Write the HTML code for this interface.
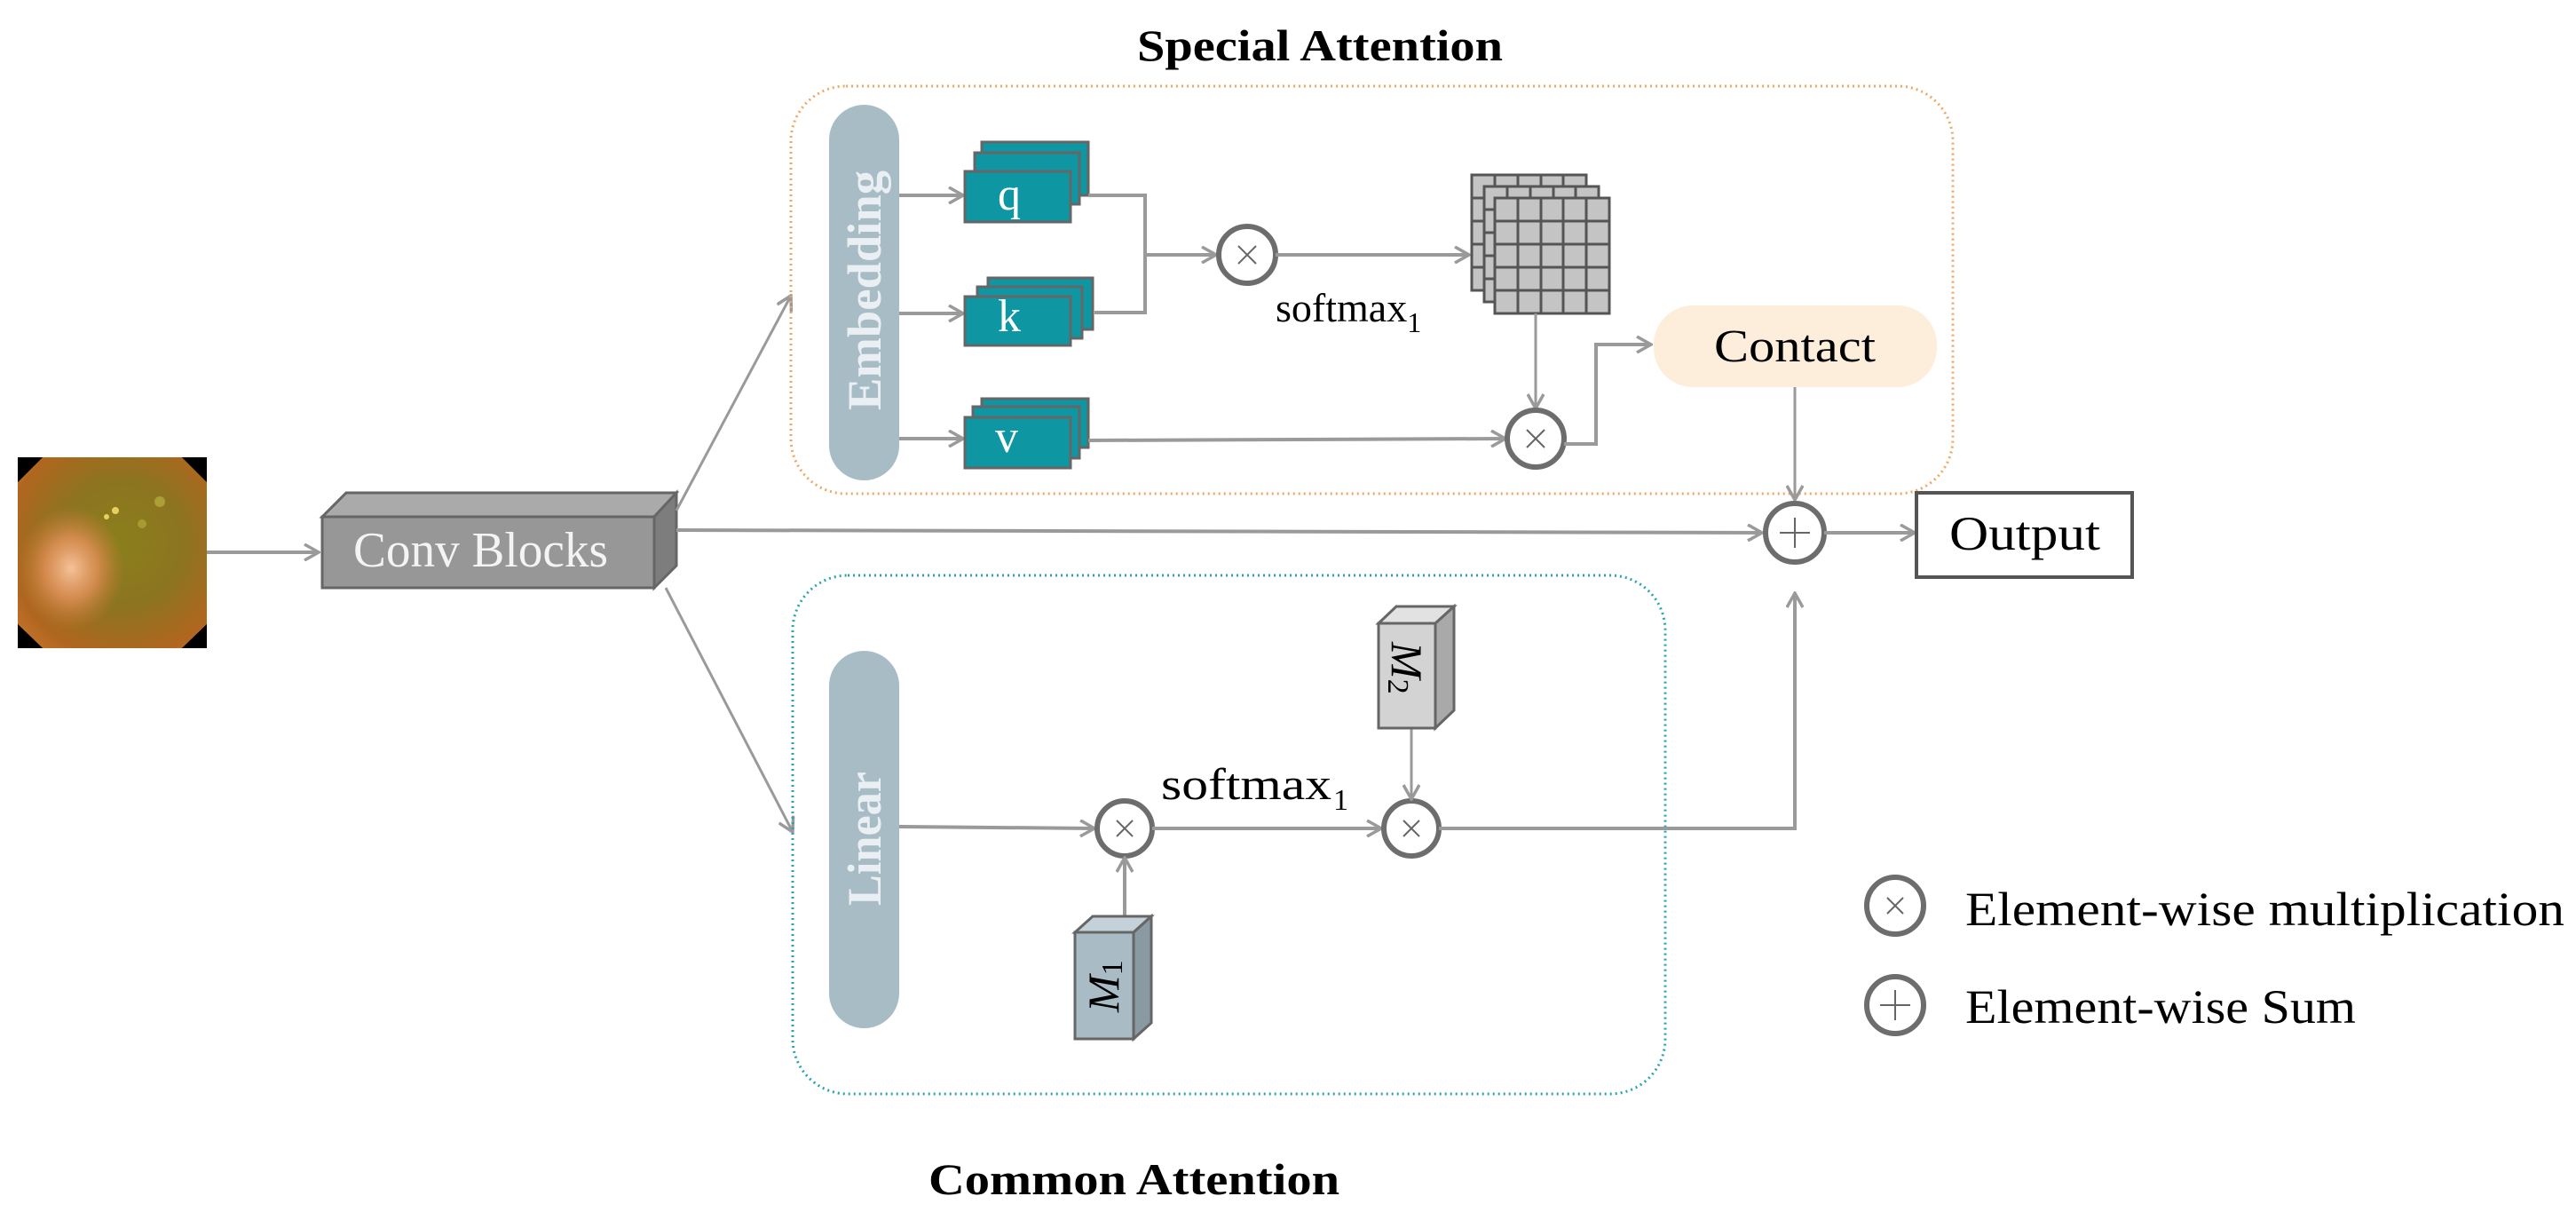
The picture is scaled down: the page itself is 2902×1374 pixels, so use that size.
<!DOCTYPE html>
<html><head><meta charset="utf-8"><style>html,body{margin:0;padding:0;background:#fff}svg{display:block}</style></head><body>
<svg width="2902" height="1374" viewBox="0 0 2902 1374" xmlns="http://www.w3.org/2000/svg">
<defs>
<marker id="ar" viewBox="0 0 20 20" refX="18" refY="10" markerWidth="20" markerHeight="20" markerUnits="userSpaceOnUse" orient="auto"><path d="M2 1 L18 10 L2 19" fill="none" stroke="#9a9a9a" stroke-width="3.5"/></marker>
<radialGradient id="img" cx="0.55" cy="0.45" r="0.75"><stop offset="0" stop-color="#8a7f1c"/><stop offset="0.45" stop-color="#8d7420"/><stop offset="0.8" stop-color="#b0661e"/><stop offset="1" stop-color="#c87530"/></radialGradient>
<radialGradient id="spot" cx="0.5" cy="0.5" r="0.5"><stop offset="0" stop-color="#f6c29a"/><stop offset="0.5" stop-color="#e39058" stop-opacity="0.8"/><stop offset="1" stop-color="#d07a3a" stop-opacity="0"/></radialGradient>
<clipPath id="oct"><polygon points="48,515 205,515 233,543 233,703 205,730 48,730 20,703 20,543"/></clipPath>
</defs>
<g font-family="Liberation Serif, serif">
<!-- image -->
<rect x="20" y="515" width="213" height="215" fill="#000"/>
<g clip-path="url(#oct)">
<polygon points="48,515 205,515 233,543 233,703 205,730 48,730 20,703 20,543" fill="url(#img)"/>
<ellipse cx="80" cy="640" rx="60" ry="70" fill="url(#spot)"/>
</g>
<circle cx="130" cy="575" r="4" fill="#e8d060"/><circle cx="120" cy="582" r="3" fill="#e8d060"/><circle cx="180" cy="565" r="6" fill="#b8b040" opacity="0.7"/><circle cx="160" cy="590" r="5" fill="#b8b040" opacity="0.6"/>

<!-- image -> conv -->
<line x1="233" y1="622" x2="359" y2="622" stroke="#9a9a9a" stroke-width="4" marker-end="url(#ar)"/>

<!-- Conv blocks -->
<polygon points="363,582 390,555 762,555 737,582" fill="#aaa" stroke="#666" stroke-width="3"/>
<polygon points="737,582 762,555 762,637 737,662" fill="#7d7d7d" stroke="#666" stroke-width="3"/>
<rect x="363" y="582" width="374" height="80" fill="#979797" stroke="#666" stroke-width="3"/>
<text x="398" y="638" font-size="56" fill="#f4f4f4" textLength="287" lengthAdjust="spacingAndGlyphs">Conv Blocks</text>

<!-- branches -->
<line x1="762" y1="575" x2="891" y2="333" stroke="#9a9a9a" stroke-width="3" marker-end="url(#ar)"/>
<line x1="750" y1="662" x2="893" y2="937" stroke="#9a9a9a" stroke-width="3" marker-end="url(#ar)"/>
<line x1="762" y1="597" x2="1985" y2="600" stroke="#9a9a9a" stroke-width="4" marker-end="url(#ar)"/>

<!-- title -->
<text x="1281" y="68" font-size="50" font-weight="bold" textLength="412" lengthAdjust="spacingAndGlyphs">Special Attention</text>
<text x="1046" y="1345" font-size="50" font-weight="bold" textLength="463" lengthAdjust="spacingAndGlyphs">Common Attention</text>

<!-- orange dotted box -->
<rect x="891" y="97" width="1309" height="459" rx="62" fill="none" stroke="#f0a860" stroke-width="3" stroke-dasharray="2 4"/>
<!-- cyan dotted box -->
<rect x="893" y="648" width="983" height="584" rx="62" fill="none" stroke="#2aa3b3" stroke-width="3" stroke-dasharray="2 4"/>

<!-- Embedding pill -->
<rect x="934" y="118" width="79" height="423" rx="39.5" fill="#a8bcc6"/>
<text transform="translate(992,462) rotate(-90)" font-size="54" font-weight="bold" fill="#e9eff2" textLength="270" lengthAdjust="spacingAndGlyphs">Embedding</text>
<!-- Linear pill -->
<rect x="934" y="733" width="79" height="425" rx="39.5" fill="#a8bcc6"/>
<text transform="translate(992,1020) rotate(-90)" font-size="54" font-weight="bold" fill="#e9eff2" textLength="151" lengthAdjust="spacingAndGlyphs">Linear</text>

<!-- arrows to qkv -->
<line x1="1013" y1="220" x2="1085" y2="220" stroke="#9a9a9a" stroke-width="4" marker-end="url(#ar)"/>
<line x1="1013" y1="353" x2="1085" y2="353" stroke="#9a9a9a" stroke-width="4" marker-end="url(#ar)"/>
<line x1="1013" y1="494" x2="1085" y2="494" stroke="#9a9a9a" stroke-width="4" marker-end="url(#ar)"/>

<!-- q stack -->
<g fill="#0e97a3" stroke="#666" stroke-width="3">
<rect x="1106" y="160" width="120" height="60"/><rect x="1098" y="172" width="118" height="58"/><rect x="1087" y="193" width="119" height="57"/>
<rect x="1113" y="313" width="118" height="58"/><rect x="1101" y="323" width="118" height="58"/><rect x="1087" y="334" width="119" height="55"/>
<rect x="1106" y="449" width="120" height="55"/><rect x="1096" y="458" width="120" height="58"/><rect x="1087" y="470" width="119" height="57"/>
</g>
<g font-size="52" fill="#fff" text-anchor="middle">
<text x="1137" y="236">q</text><text x="1137" y="373">k</text><text x="1134" y="509">v</text>
</g>

<!-- q/k join -->
<polyline points="1226,220 1290,220 1290,352 1233,352" fill="none" stroke="#9a9a9a" stroke-width="4"/>
<line x1="1290" y1="287" x2="1370" y2="287" stroke="#9a9a9a" stroke-width="4" marker-end="url(#ar)"/>
<circle cx="1405" cy="287" r="32" fill="#fff" stroke="#6d6d6d" stroke-width="6"/>
<path d="M1395 277 L1415 297 M1415 277 L1395 297" stroke="#666" stroke-width="2"/>
<line x1="1437" y1="287" x2="1655" y2="287" stroke="#9a9a9a" stroke-width="4" marker-end="url(#ar)"/>
<text x="1437" y="362" font-size="46">softmax<tspan font-size="32" dy="12">1</tspan></text>

<!-- grid stack -->
<g stroke="#555" stroke-width="3" fill="#c4c4c4">
<rect x="1658" y="197" width="129" height="130"/>
<rect x="1672" y="210" width="129" height="130"/>
<rect x="1684" y="223" width="129" height="130"/>
</g>
<g stroke="#555" stroke-width="3">
<path d="M1710 223 V353 M1736 223 V353 M1761 223 V353 M1787 223 V353 M1684 249 H1813 M1684 275 H1813 M1684 301 H1813 M1684 327 H1813"/>
<path d="M1684 223 H1801 M1672 236 H1684 M1672 262 H1684 M1672 288 H1684 M1672 314 H1684 M1698 210 V223 M1724 210 V223 M1750 210 V223 M1775 210 V223"/>
<path d="M1658 223 H1672 M1658 249 H1672 M1658 275 H1672 M1658 301 H1672 M1684 197 V210 M1710 197 V210 M1736 197 V210 M1761 197 V210"/>
</g>

<!-- grid -> mult2 -->
<line x1="1730" y1="353" x2="1730" y2="460" stroke="#9a9a9a" stroke-width="3" marker-end="url(#ar)"/>
<line x1="1226" y1="496" x2="1696" y2="494" stroke="#9a9a9a" stroke-width="4" marker-end="url(#ar)"/>
<circle cx="1730" cy="494" r="32" fill="#fff" stroke="#6d6d6d" stroke-width="6"/>
<path d="M1720 484 L1740 504 M1740 484 L1720 504" stroke="#666" stroke-width="2"/>
<polyline points="1762,500 1798,500 1798,388 1860,388" fill="none" stroke="#9a9a9a" stroke-width="4" marker-end="url(#ar)"/>

<!-- Contact -->
<rect x="1863" y="344" width="319" height="92" rx="44" fill="#fdeedb"/>
<text x="2022" y="407" font-size="52" text-anchor="middle" textLength="182" lengthAdjust="spacingAndGlyphs">Contact</text>
<line x1="2022" y1="436" x2="2022" y2="563" stroke="#9a9a9a" stroke-width="3" marker-end="url(#ar)"/>

<!-- plus -->
<circle cx="2022" cy="600" r="33" fill="#fff" stroke="#6d6d6d" stroke-width="6"/>
<path d="M2022 583 V617 M2005 600 H2039" stroke="#666" stroke-width="2"/>
<line x1="2055" y1="600" x2="2157" y2="600" stroke="#9a9a9a" stroke-width="4" marker-end="url(#ar)"/>
<rect x="2159" y="555" width="243" height="95" fill="#fff" stroke="#555" stroke-width="4"/>
<text x="2281" y="619" font-size="54" text-anchor="middle" textLength="170" lengthAdjust="spacingAndGlyphs">Output</text>

<!-- common path -->
<line x1="1013" y1="931" x2="1233" y2="933" stroke="#9a9a9a" stroke-width="4" marker-end="url(#ar)"/>
<circle cx="1267" cy="933" r="31" fill="#fff" stroke="#6d6d6d" stroke-width="6"/>
<path d="M1258 924 L1276 942 M1276 924 L1258 942" stroke="#666" stroke-width="2"/>
<line x1="1298" y1="933" x2="1556" y2="933" stroke="#9a9a9a" stroke-width="4" marker-end="url(#ar)"/>
<text x="1308" y="900" font-size="50" textLength="192" lengthAdjust="spacingAndGlyphs">softmax</text><text x="1502" y="912" font-size="34">1</text>
<circle cx="1590" cy="933" r="31" fill="#fff" stroke="#6d6d6d" stroke-width="6"/>
<path d="M1581 924 L1599 942 M1599 924 L1581 942" stroke="#666" stroke-width="2"/>
<line x1="1267" y1="1032" x2="1267" y2="966" stroke="#9a9a9a" stroke-width="4" marker-end="url(#ar)"/>
<line x1="1590" y1="820" x2="1590" y2="900" stroke="#9a9a9a" stroke-width="3" marker-end="url(#ar)"/>
<polyline points="1621,933 2022,933 2022,668" fill="none" stroke="#9a9a9a" stroke-width="4" marker-end="url(#ar)"/>

<!-- M1 -->
<polygon points="1211,1050 1231,1032 1297,1032 1277,1050" fill="#c4d1d8" stroke="#666" stroke-width="3"/>
<polygon points="1277,1050 1297,1032 1297,1152 1277,1170" fill="#8a9aa2" stroke="#666" stroke-width="3"/>
<rect x="1211" y="1050" width="66" height="120" fill="#a9bcc6" stroke="#666" stroke-width="3"/>
<text transform="translate(1260,1140) rotate(-90)" font-size="50" font-style="italic">M<tspan font-size="34" font-style="normal" dy="4">1</tspan></text>
<!-- M2 -->
<polygon points="1553,702 1573,683 1638,683 1617,702" fill="#e2e2e2" stroke="#666" stroke-width="3"/>
<polygon points="1617,702 1638,683 1638,800 1617,820" fill="#a9a9a9" stroke="#666" stroke-width="3"/>
<rect x="1553" y="702" width="64" height="118" fill="#d3d3d3" stroke="#666" stroke-width="3"/>
<text transform="translate(1568,723) rotate(90)" font-size="50" font-style="italic">M<tspan font-size="34" font-style="normal" dy="4">2</tspan></text>

<!-- legend -->
<circle cx="2135" cy="1020" r="32" fill="#fff" stroke="#6d6d6d" stroke-width="6"/>
<path d="M2126 1011 L2144 1029 M2144 1011 L2126 1029" stroke="#666" stroke-width="2"/>
<text x="2214" y="1042" font-size="54" textLength="675" lengthAdjust="spacingAndGlyphs">Element-wise multiplication</text>
<circle cx="2135" cy="1132" r="32" fill="#fff" stroke="#6d6d6d" stroke-width="6"/>
<path d="M2135 1115 V1149 M2118 1132 H2152" stroke="#666" stroke-width="2"/>
<text x="2214" y="1152" font-size="54" textLength="440" lengthAdjust="spacingAndGlyphs">Element-wise Sum</text>
</g>
</svg>
</body></html>
